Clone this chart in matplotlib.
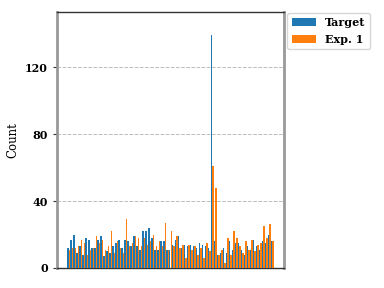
import numpy as np
import matplotlib
matplotlib.use("Agg")
import matplotlib.pyplot as plt

target = [12, 17, 20, 9, 13, 8, 18, 17, 12, 12, 17, 19, 7, 10, 9, 13, 15, 17, 12, 17,
          16, 13, 19, 13, 11, 22, 22, 24, 18, 11, 11, 16, 16, 11, 11, 14, 17, 19, 12, 14,
          13, 14, 13, 12, 15, 14, 13, 12, 139, 16, 8, 9, 12, 9, 16, 11, 15, 15, 11, 8,
          13, 11, 17, 13, 11, 16, 15, 20, 16]
exp1 = [11, 12, 12, 13, 17, 15, 8, 11, 12, 19, 15, 17, 11, 13, 22, 9, 16, 12, 9, 29,
        13, 15, 19, 18, 13, 18, 14, 16, 20, 13, 16, 13, 27, 11, 22, 13, 19, 12, 14, 6,
        14, 11, 13, 8, 12, 6, 15, 10, 61, 48, 8, 11, 3, 18, 8, 22, 18, 13, 9, 16,
        11, 17, 10, 14, 15, 25, 18, 26, 16]
series_labels = ["Target", "Exp. 1"]
yticks = [0, 40, 80, 120]

fig = plt.figure(figsize=(3.84, 2.88), dpi=100)
ax = fig.add_axes([57/384, 20/288, 227/384, 256/288])

x = np.arange(len(target))
w = 0.4
ax.bar(x - w/2, target, width=w, color="#1f77b4", label=series_labels[0], zorder=3)
ax.bar(x + w/2, exp1, width=w, color="#ff7f0e", label=series_labels[1], zorder=3)

ax.set_ylim(0, max(target) * 1.1)
ax.set_xlim(-0.4 - 0.05 * (len(x) - 0.2), len(x) - 1 + 0.4 + 0.05 * (len(x) - 0.2))
ax.set_yticks(yticks)
ax.set_xticks([])
ax.yaxis.grid(True, linestyle="--", color="#bbbbbb", linewidth=0.7, zorder=0)
ax.set_axisbelow(True)

for lab in ax.get_yticklabels():
    lab.set_fontfamily("DejaVu Serif")
    lab.set_fontweight("bold")
    lab.set_fontsize(8)
ax.tick_params(axis="y", length=3, width=0.8, color="#333333")
ax.set_ylabel("Count", family="DejaVu Serif", fontsize=8.5)

for s in ["left", "right"]:
    ax.spines[s].set_color("#999999")
    ax.spines[s].set_linewidth(2)
for s in ["top", "bottom"]:
    ax.spines[s].set_color("#333333")
    ax.spines[s].set_linewidth(1.0)

leg = ax.legend(loc="upper left", bbox_to_anchor=(1.0, 1.01),
                prop={"family": "DejaVu Serif", "weight": "bold", "size": 8},
                handlelength=2.2, borderaxespad=0.3)

fig.savefig("out.png", dpi=100)
